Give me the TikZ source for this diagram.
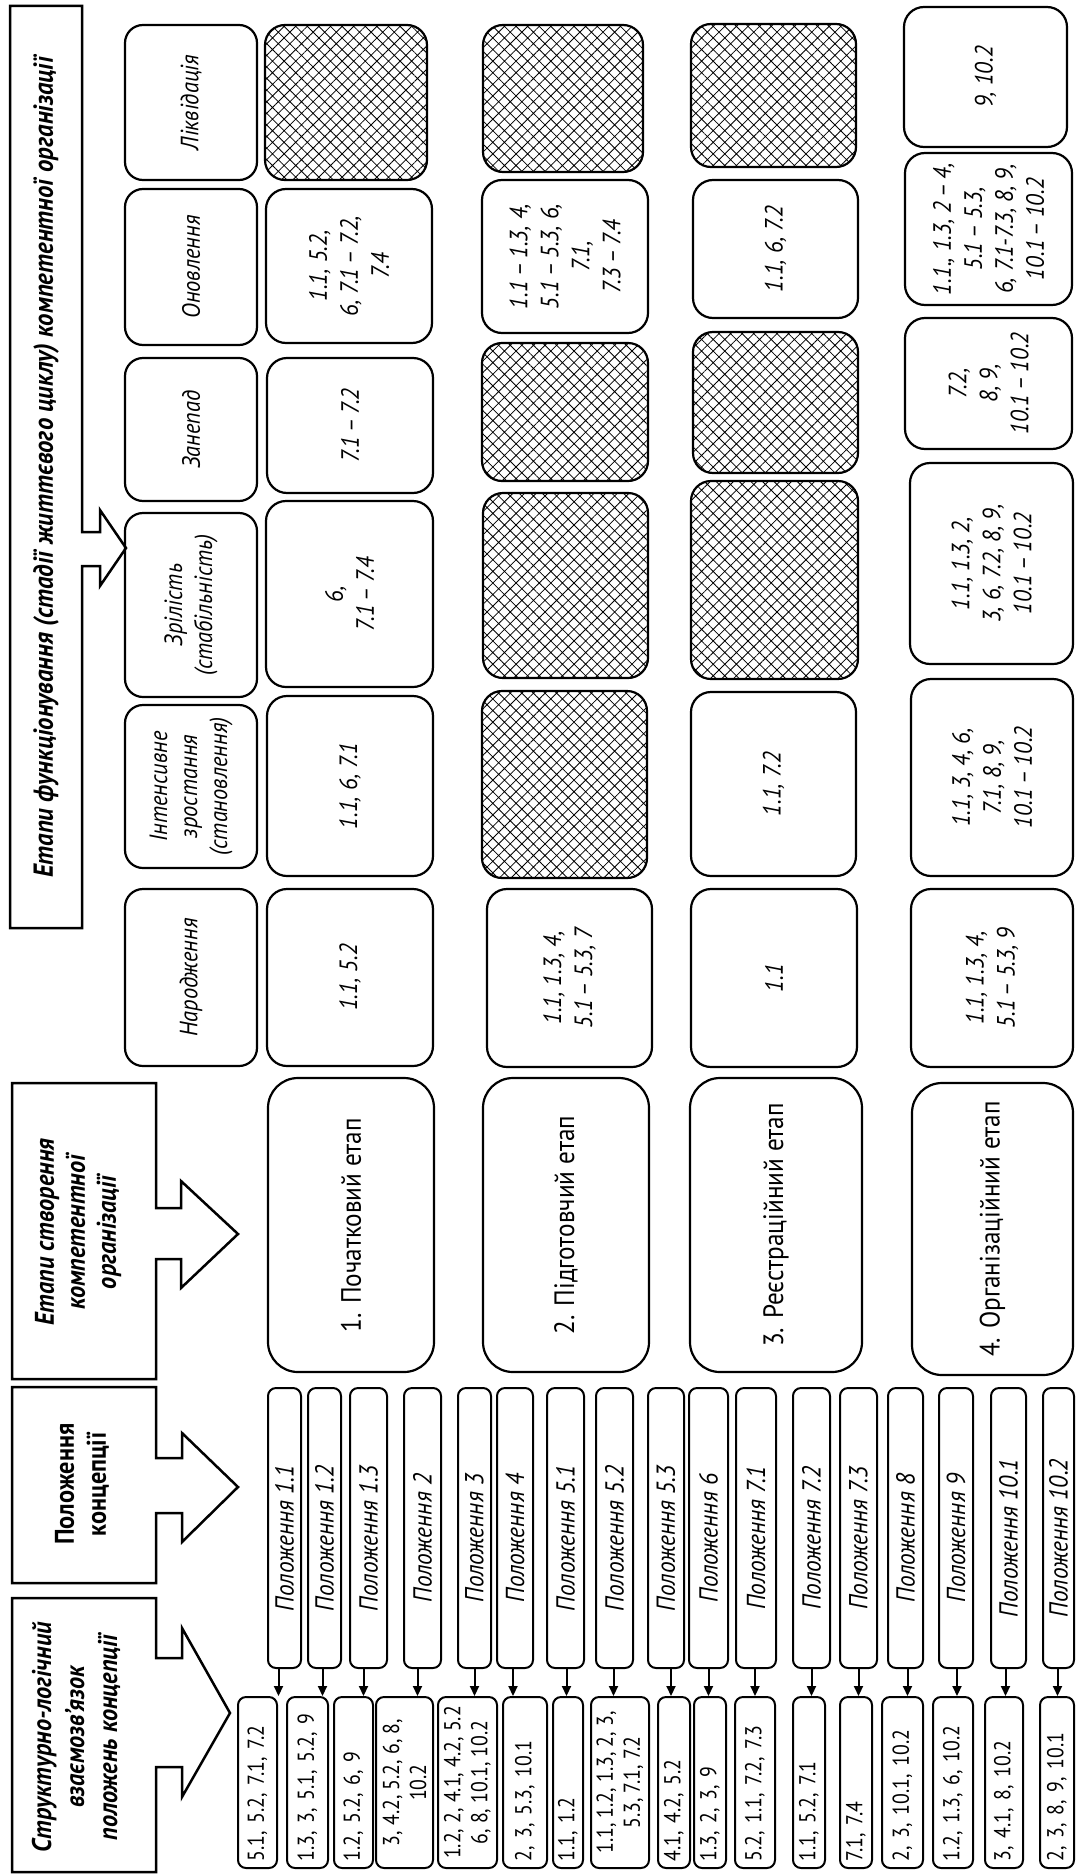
\documentclass[tikz,border=0pt]{standalone}
\usepackage{fontspec}
\setmainfont{PT Sans}[FakeStretch=0.9]
\newfontfamily\Lfont{PT Sans}[FakeStretch=0.86]
\usetikzlibrary{patterns.meta,calc,arrows.meta}
\tikzset{
  base/.style={draw, line width=2.2pt, rotate=90, inner sep=0pt, align=center},
  cellbox/.style={base, rounded corners=20pt, font=\fontsize{25}{31}\selectfont\itshape},
  hatchbox/.style={base, rounded corners=20pt, pattern={Hatch[angle=45,distance=8.2pt,line width=0.8pt]}},
  stagebox/.style={base, rounded corners=30pt, font=\fontsize{28}{33}\selectfont},
  headbox/.style={base, rounded corners=18pt, font=\fontsize{25}{30}\selectfont\itshape},
  pbox/.style={base, line width=2pt, rounded corners=8pt, font=\fontsize{26}{30}\selectfont\itshape},
  lbox/.style={base, line width=2pt, rounded corners=8pt, font=\Lfont\fontsize{23}{27}\selectfont},
  bigtext/.style={rotate=90, align=center, inner sep=0pt, font=\fontsize{27}{32}\selectfont\bfseries},
  blockarrow/.style={draw, line width=2.5pt, line join=miter},
  arr/.style={line width=2pt, -{Triangle[length=10pt,width=9pt]}},
}
\newcommand\mkbox[7]{\node[#1, minimum width={#6-#4}, minimum height={#5-#3}] (#2) at ({(#3+#5)/2},{(#4+#6)/2}) {#7};}
\newcommand\mkL[4]{\node[lbox, minimum height={#3-#2}, text width=157pt, inner xsep=7pt, align=left] (#1) at ({(#2+#3)/2},1782.5) {\mbox{#4}};}
\newcommand\mkLc[4]{\node[lbox, minimum height={#3-#2}, minimum width=171, align=center] (#1) at ({(#2+#3)/2},1782.5) {#4};}
\newcommand\mkP[4]{\node[pbox, minimum height={#3-#2}, minimum width=280] (#1) at ({(#2+#3)/2},1528) {#4\kern20pt};}
\newcommand\parr[3]{\draw[arr] ($(#1.west)+(#3,0)$) -- ($(#1.west |- #2.east)+(#3,0)$);}
\begin{document}
\begin{tikzpicture}[x=1pt,y=-1pt]
\fill[white] (0,0) rectangle (1076,1876);
\useasboundingbox (0,0) rectangle (1076,1876);

% ---------- header blocks with block arrows ----------
\draw[blockarrow] (82,532) -- (82,6) -- (10,6) -- (10,928) -- (82,928) -- (82,566)
  -- (100,566) -- (100,586) -- (126,548) -- (100,510) -- (100,532) -- cycle;
\node[bigtext, font=\fontsize{27.5}{32}\selectfont\bfseries\itshape] (tFunk) at (46,467)
  {Етапи функціонування (стадії життєвого циклу) компетентної організації};

\draw[blockarrow] (156,1208) -- (156,1083) -- (12,1083) -- (12,1379) -- (156,1379) -- (156,1259)
  -- (181,1259) -- (181,1288) -- (238,1234) -- (181,1181) -- (181,1208) -- cycle;
\node[bigtext, font=\fontsize{27}{31}\selectfont\bfseries\itshape] (tStv) at (78,1232)
  {Етапи створення\\компетентної\\організації};

\draw[blockarrow] (156,1458) -- (156,1387) -- (12,1387) -- (12,1583) -- (156,1583) -- (156,1513)
  -- (182,1513) -- (182,1542) -- (238,1487) -- (182,1433) -- (182,1458) -- cycle;
\node[bigtext] (tPol) at (82,1484) {Положення\\концепції};

\draw[blockarrow] (156,1658) -- (156,1598) -- (12,1598) -- (12,1872) -- (156,1872) -- (156,1767)
  -- (182,1767) -- (182,1797) -- (230,1713) -- (182,1628) -- (182,1658) -- cycle;
\node[bigtext, font=\fontsize{27}{33}\selectfont\bfseries\itshape] (tStr) at (76,1737)
  {Структурно-логічний\\взаємозв’язок\\положень концепції};

% ---------- life-cycle headers ----------
\mkbox{headbox}{hNar}{125}{889}{257}{1066}{Народження}
\mkbox{headbox}{hInt}{125}{705}{257}{868}{Інтенсивне\\зростання\\(становлення)}
\mkbox{headbox}{hZri}{125}{513}{257}{697}{Зрілість\\(стабільність)}
\mkbox{headbox}{hZan}{125}{358}{257}{501}{Занепад}
\mkbox{headbox}{hOno}{125}{189}{257}{345}{Оновлення}
\mkbox{headbox}{hLik}{125}{25}{257}{180}{Ліквідація}

% ---------- row 1 ----------
\mkbox{cellbox}{a1}{267}{889}{433}{1066}{1.1, 5.2}
\mkbox{cellbox}{a2}{267}{696}{433}{876}{1.1, 6, 7.1}
\mkbox{cellbox}{a3}{266}{501}{433}{687}{6,\\7.1\,–\,7.4}
\mkbox{cellbox}{a4}{267}{358}{433}{493}{7.1\,–\,7.2}
\mkbox{cellbox}{a5}{266}{189}{432}{343}{1.1, 5.2,\\6, 7.1\,–\,7.2,\\7.4}
\mkbox{hatchbox}{a6}{265}{25}{427}{180}{}
\mkbox{stagebox}{s1}{268}{1078}{434}{1372}{1. Початковий етап}

% ---------- row 2 ----------
\mkbox{cellbox}{b1}{487}{889}{652}{1067}{1.1, 1.3, 4,\\5.1\,–\,5.3, 7}
\mkbox{hatchbox}{b2}{482}{691}{647}{878}{}
\mkbox{hatchbox}{b3}{483}{493}{648}{678}{}
\mkbox{hatchbox}{b4}{482}{343}{648}{481}{}
\mkbox{cellbox}{b5}{482}{180}{648}{333}{1.1\,–\,1.3, 4,\\5.1\,–\,5.3, 6,\\7.1,\\7.3\,–\,7.4}
\mkbox{hatchbox}{b6}{483}{25}{643}{172}{}
\mkbox{stagebox}{s2}{483}{1078}{649}{1372}{2. Підготовчий етап}

% ---------- row 3 ----------
\mkbox{cellbox}{c1}{691}{889}{857}{1067}{1.1}
\mkbox{cellbox}{c2}{691}{692}{856}{876}{1.1, 7.2}
\mkbox{hatchbox}{c3}{691}{481}{858}{679}{}
\mkbox{hatchbox}{c4}{693}{332}{858}{473}{}
\mkbox{cellbox}{c5}{693}{180}{858}{318}{1.1, 6, 7.2}
\mkbox{hatchbox}{c6}{691}{24}{856}{167}{}
\mkbox{stagebox}{s3}{690}{1078}{862}{1372}{3. Реєстраційний етап}

% ---------- row 4 ----------
\mkbox{cellbox}{d1}{911}{889}{1073}{1067}{1.1, 1.3, 4,\\5.1\,–\,5.3, 9}
\mkbox{cellbox}{d2}{911}{679}{1073}{876}{1.1, 3, 4, 6,\\7.1, 8, 9,\\10.1\,–\,10.2}
\mkbox{cellbox}{d3}{910}{463}{1073}{664}{1.1, 1.3, 2,\\3, 6, 7.2, 8, 9,\\10.1\,–\,10.2}
\mkbox{cellbox}{d4}{905}{318}{1072}{449}{7.2,\\8, 9,\\10.1\,–\,10.2}
\mkbox{cellbox}{d5}{905}{153}{1072}{305}{1.1., 1.3, 2\,–\,4,\\5.1\,–\,5.3,\\6, 7.1-7.3, 8, 9,\\10.1\,–\,10.2}
\mkbox{cellbox}{d6}{904}{7}{1067}{147}{9, 10.2}
\mkbox{stagebox}{s4}{912}{1083}{1073}{1375}{4. Організаційний етап}

% ---------- Положення boxes ----------
\mkP{P11}{268}{301}{Положення 1.1}
\mkP{P12}{308}{341}{Положення 1.2}
\mkP{P13}{350}{387}{Положення 1.3}
\mkP{P2}{404}{441}{Положення 2}
\mkP{P3}{458}{491}{Положення 3}
\mkP{P4}{497}{533}{Положення 4}
\mkP{P51}{547}{584}{Положення 5.1}
\mkP{P52}{596}{633}{Положення 5.2}
\mkP{P53}{648}{684}{Положення 5.3}
\mkP{P6}{689}{728}{Положення 6}
\mkP{P71}{736}{776}{Положення 7.1}
\mkP{P72}{793}{830}{Положення 7.2}
\mkP{P73}{840}{877}{Положення 7.3}
\mkP{P8}{888}{923}{Положення 8}
\mkP{P9}{939}{973}{Положення 9}
\mkP{P101}{991}{1026}{Положення 10.1}
\mkP{P102}{1043}{1074}{Положення 10.2}

% ---------- lower boxes ----------
\mkL{L1}{238}{277}{5.1, 5.2, 7.1, 7.2}
\mkL{L2}{287}{328}{1.3, 3, 5.1, 5.2, 9}
\mkL{L3}{334}{373}{1.2, 5.2, 6, 9}
\mkLc{L4}{376}{433}{3, 4.2, 5.2, 6, 8,\\10.2}
\mkLc{L5}{438}{497}{1.2, 2, 4.1, 4.2, 5.2\\6, 8, 10.1, 10.2}
\mkL{L6}{503}{547}{2, 3, 5.3, 10.1}
\mkL{L7}{553}{583}{1.1, 1.2}
\mkLc{L8}{591}{649}{1.1, 1.2, 1.3, 2, 3,\\5.3, 7.1, 7.2}
\mkL{L9}{658}{690}{4.1, 4.2, 5.2}
\mkL{L10}{694}{726}{1.3, 2, 3, 9}
\mkL{L11}{735}{775}{5.2, 1.1, 7.2, 7.3}
\mkL{L12}{793}{825}{1.1, 5.2, 7.1}
\mkL{L13}{840}{872}{7.1, 7.4}
\mkL{L14}{882}{923}{2, 3, 10.1, 10.2}
\mkL{L15}{933}{973}{1.2, 1.3, 6, 10.2}
\mkL{L16}{985}{1023}{3, 4.1, 8, 10.2}
\mkL{L17}{1040}{1074}{2, 3, 8, 9, 10.1}

% ---------- arrows ----------
\parr{P11}{L1}{-6}
\parr{P12}{L2}{-2}
\parr{P13}{L3}{-5}
\parr{P2}{L4}{-5}
\parr{P3}{L5}{0}
\parr{P4}{L6}{-2}
\parr{P51}{L7}{1}
\parr{P52}{L8}{-1}
\parr{P53}{L9}{5}
\parr{P6}{L10}{0}
\parr{P71}{L11}{-1}
\parr{P72}{L12}{0}
\parr{P73}{L13}{0}
\parr{P8}{L14}{2}
\parr{P9}{L15}{1}
\parr{P101}{L16}{-3}
\parr{P102}{L17}{-1}
\end{tikzpicture}
\end{document}
